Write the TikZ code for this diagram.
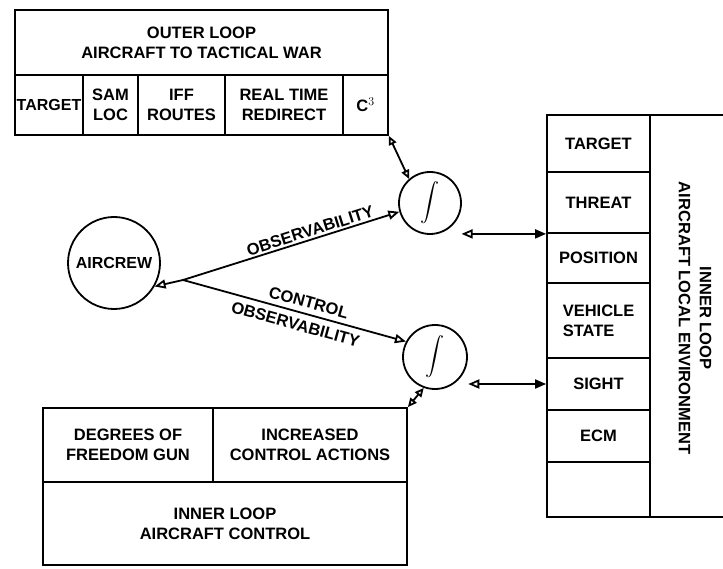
\documentclass[tikz,border=0pt]{standalone}
\usepackage{fontspec}
\setmainfont{Liberation Sans}
\usetikzlibrary{arrows.meta}
\begin{document}
\begin{tikzpicture}[x=1pt,y=-1pt,
  cell/.style={draw, line width=1.8pt, inner sep=0pt, align=center,
    font=\fontsize{16.5}{20}\selectfont\bfseries},
  lbl/.style={inner sep=1pt, align=center, font=\fontsize{16.5}{21}\selectfont\bfseries},
  loopcirc/.style={draw, circle, line width=1.8pt, inner sep=0pt},
  wire/.style={line width=1.8pt},
  otip/.style={wire, {Triangle[open,length=9pt,width=8pt]}-{Triangle[open,length=9pt,width=8pt]}},
  sendtip/.style={wire, -{Triangle[open,length=11pt,width=9pt]}},
  linktip/.style={wire, {Triangle[open,length=11pt,width=9pt]}-{Triangle[length=11pt,width=9pt]}}]
\useasboundingbox (0,0) rectangle (723,569);

% outer loop block
\node[cell, minimum width=373pt, minimum height=65pt] (otitle) at (201.5,42.5)
  {OUTER LOOP\\AIRCRAFT TO TACTICAL WAR};
\node[cell, minimum width=68pt, minimum height=60pt, font=\fontsize{16}{20}\selectfont\bfseries] (otarget) at (49,105) {TARGET};
\node[cell, minimum width=55pt, minimum height=60pt] (osam) at (110.5,105) {SAM\\LOC};
\node[cell, minimum width=87pt, minimum height=60pt] (oiff) at (181.5,105) {IFF\\ROUTES};
\node[cell, minimum width=118pt, minimum height=60pt] (oreal) at (284,105) {REAL TIME\\REDIRECT};
\node[cell, minimum width=45pt, minimum height=60pt] (oc) at (365.5,105) {C$^{3}$};

% inner loop control block
\node[cell, minimum width=170pt, minimum height=74pt] (ldeg) at (128,445) {DEGREES OF\\FREEDOM GUN};
\node[cell, minimum width=194pt, minimum height=74pt] (linc) at (310,445) {INCREASED\\CONTROL ACTIONS};
\node[cell, minimum width=364pt, minimum height=83pt] (ltitle) at (225,523.5) {INNER LOOP\\AIRCRAFT CONTROL};

% local environment block
\node[cell, minimum width=103pt, minimum height=57pt] (rtarget) at (598.5,143.5) {TARGET};
\node[cell, minimum width=103pt, minimum height=61pt] (rthreat) at (598.5,202.5) {THREAT};
\node[cell, minimum width=103pt, minimum height=50pt] (rpos) at (598.5,258) {POSITION};
\node[cell, minimum width=103pt, minimum height=75pt, align=left] (rveh) at (598.5,320.5) {VEHICLE\\STATE};
\node[cell, minimum width=103pt, minimum height=52pt] (rsight) at (598.5,384) {SIGHT};
\node[cell, minimum width=103pt, minimum height=52pt] (recm) at (598.5,436) {ECM};
\node[cell, minimum width=103pt, minimum height=55pt] (rblank) at (598.5,489.5) {};
\node[cell, minimum width=90pt, minimum height=402pt] (rtitle) at (695,316) {};
\node[lbl, rotate=-90] (rtitletext) at (695,318) {INNER LOOP\\AIRCRAFT LOCAL ENVIRONMENT};

% crew and integrators
\node[loopcirc, minimum size=92pt, font=\fontsize{16}{20}\selectfont\bfseries] (aircrew) at (114,263) {AIRCREW};
\node[loopcirc, minimum size=62pt] (int1) at (430,203) {\scalebox{1.9}{$\displaystyle\int$}};
\node[loopcirc, minimum size=64pt] (int2) at (435,357) {\scalebox{1.9}{$\displaystyle\int$}};

\coordinate (split) at (183,280);

% connectors
\draw[sendtip] (split) -- (aircrew.-30);
\draw[sendtip] (split) -- node[lbl, sloped, above=1pt, pos=0.6] (lobs) {OBSERVABILITY} (int1.196);
\draw[sendtip] (split) -- node[lbl, sloped, above=4pt, pos=0.55] (lctl) {CONTROL}
  node[lbl, sloped, below=5pt, pos=0.52] (lobs2) {OBSERVABILITY} (int2.152);
\draw[otip] (oc.south east) -- (int1.131);
\draw[otip] (linc.north east) -- (int2.250);
\draw[linktip] ([xshift=9pt]int1.-45 |- rthreat.south west) -- (rthreat.south west);
\draw[linktip] ([xshift=10pt]int2.-45 |- rsight.west) -- (rsight.west);
\end{tikzpicture}
\end{document}
